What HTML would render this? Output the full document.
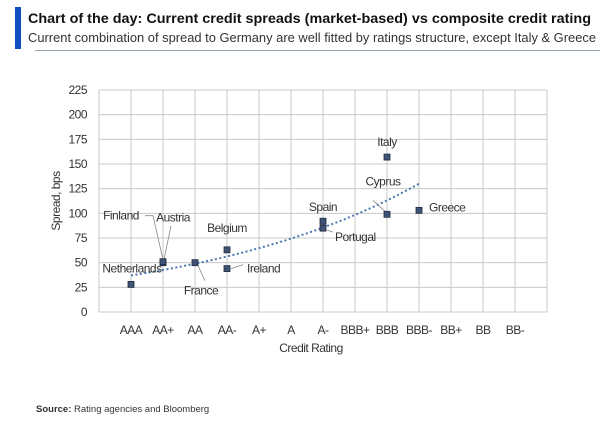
<!DOCTYPE html>
<html><head><meta charset="utf-8"><style>
body{margin:0;background:#fff;}
svg{display:block;font-family:"Liberation Sans",sans-serif;}
#axes text,#marks text{letter-spacing:-0.5px;}
</style></head><body>
<svg width="614" height="434" viewBox="0 0 614 434">
<rect x="15" y="7" width="6" height="42" fill="#0b4fc0"/>
<text x="28" y="23" font-size="14" font-weight="bold" fill="#111" textLength="563" lengthAdjust="spacingAndGlyphs">Chart of the day: Current credit spreads (market-based) vs composite credit rating</text>
<text x="28" y="42" font-size="13" fill="#333" textLength="568" lengthAdjust="spacingAndGlyphs">Current combination of spread to Germany are well fitted by ratings structure, except Italy &amp; Greece</text>
<line x1="35" y1="50.5" x2="600" y2="50.5" stroke="#9aa7b5" stroke-width="1"/>
<g id="grid"></g>
<g id="axes"></g>
<g id="marks"></g>
<text x="311" y="352" font-size="12" fill="#333" text-anchor="middle" letter-spacing="-0.5">Credit Rating</text>
<text transform="translate(60,201) rotate(-90)" font-size="12" fill="#333" text-anchor="middle" letter-spacing="-0.5">Spread, bps</text>
<text x="36" y="412" font-size="9.5" fill="#333"><tspan font-weight="bold">Source:</tspan> Rating agencies and Bloomberg</text>
</svg>
<script>
const categories=["AAA","AA+","AA","AA-","A+","A","A-","BBB+","BBB","BBB-","BB+","BB","BB-"];
const yTicks=[0,25,50,75,100,125,150,175,200,225];
const countries=["Netherlands","Finland","Austria","France","Belgium","Ireland","Spain","Portugal","Italy","Cyprus","Greece"];
const ratings=["AAA","AA+","AA+","AA","AA-","AA-","A-","A-","BBB","BBB","BBB-"];
const spreads=[28,50,51,50,63,44,92,85,157,99,103];
const trendA=32.2, trendB=0.1396;
const NS="http://www.w3.org/2000/svg";
const L=99,R=547,T=90,B=312;
const xs=i=>L+(i+1)*(R-L)/14;
const ys=v=>B-v/225*(B-T);
function mk(tag,attrs,parent){const e=document.createElementNS(NS,tag);for(const k in attrs)e.setAttribute(k,attrs[k]);parent.appendChild(e);return e;}
const grid=document.getElementById('grid'),axes=document.getElementById('axes'),marks=document.getElementById('marks');
for(let i=-1;i<=13;i++){const l=mk('line',{x1:xs(i),x2:xs(i),y1:T,y2:B,stroke:'#c8c8c8','stroke-width':1},grid);

}
yTicks.forEach(v=>{const l=mk('line',{x1:L,x2:R,y1:ys(v),y2:ys(v),stroke:'#c8c8c8','stroke-width':1},grid);


const t=mk('text',{x:L-12,y:ys(v)+4,'font-size':12,fill:'#333','text-anchor':'end'},axes);t.textContent=v;

});
categories.forEach((c,i)=>{const t=mk('text',{x:xs(i),y:334,'font-size':12,fill:'#333','text-anchor':'middle'},axes);t.textContent=c;

});
let pts=[];for(let x=1;x<=10;x+=0.25){pts.push(xs(x-1)+','+ys(trendA*Math.exp(trendB*x)));}
const tr=mk('polyline',{points:pts.join(' '),fill:'none',stroke:'#4a78b0','stroke-width':2,'stroke-dasharray':'2,2.5'},marks);


const lab={Netherlands:[1,-16,'middle'],Finland:[-42,-47,'middle'],Austria:[10,-44,'middle'],France:[6,28,'middle'],
Belgium:[0,-22,'middle'],Ireland:[20,0,'start'],Spain:[0,-14,'middle'],Portugal:[12,9,'start'],Italy:[0,-15,'middle'],
Cyprus:[-4,-33,'middle'],Greece:[10,-3,'start']};
const leaders={Finland:[-18,-47,-10,-47],Austria:[1,-2,8,-36],France:[3,3,10,18],Ireland:[4,0,16,-4],Portugal:[4,2,10,4],Cyprus:[-2,-3,-14,-14]};
countries.forEach((c,i)=>{const cx=xs(categories.indexOf(ratings[i])),cy=ys(spreads[i]);
if(leaders[c]){const d=leaders[c];
if(c==='Finland'){const pl=mk('polyline',{points:(cx+d[0])+','+(cy+d[1])+' '+(cx+d[2])+','+(cy+d[3])+' '+cx+','+(cy-3),fill:'none',stroke:'#888','stroke-width':0.8},marks);

}
else{const ln=mk('line',{x1:cx+d[0],y1:cy+d[1],x2:cx+d[2],y2:cy+d[3],stroke:'#888','stroke-width':0.8},marks);

}}
const r=mk('rect',{x:cx-3,y:cy-3,width:6,height:6,fill:'#3e5376',stroke:'#1e2a40','stroke-width':0.8},marks);


const o=lab[c];const t=mk('text',{x:cx+o[0],y:cy+o[1]+4,'font-size':12,fill:'#333','text-anchor':o[2]},marks);t.textContent=c;

});
</script>
</body></html>
